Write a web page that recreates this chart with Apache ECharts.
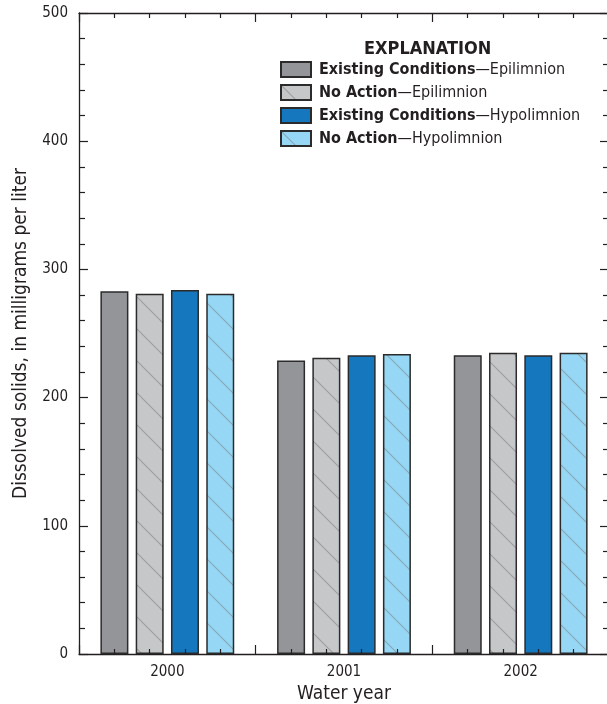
<!DOCTYPE html>
<html>
<head>
<meta charset="utf-8">
<script src="https://cdn.jsdelivr.net/npm/echarts@6/dist/echarts.min.js"></script>
<style>
html,body{margin:0;padding:0;background:#fff;overflow:hidden;}
#chart{width:610px;height:704px;}
</style>
</head>
<body>
<div id="chart"></div>
<script>
const years = ['2000', '2001', '2002'];
const seriesNames = [
  'Existing Conditions—Epilimnion',
  'No Action—Epilimnion',
  'Existing Conditions—Hypolimnion',
  'No Action—Hypolimnion'
];
const existingEpi = [283, 229, 233];
const noActionEpi = [281, 231, 235];
const existingHypo = [284, 233, 233];
const noActionHypo = [281, 234, 235];
const yTicks = [0, 100, 200, 300, 400, 500];

const FONT = '"DejaVu Sans Condensed", "Liberation Sans Narrow", sans-serif';
const INK = '#231f20';

function hatch(bg, line) {
  const c = document.createElement('canvas');
  const s = 32;
  c.width = s; c.height = s;
  const g = c.getContext('2d');
  g.fillStyle = bg; g.fillRect(0, 0, s, s);
  g.strokeStyle = line; g.lineWidth = 1.1;
  for (let k = -1; k <= 1; k++) {
    g.beginPath();
    g.moveTo(-4, -4 + k * s);
    g.lineTo(s + 4, s + 4 + k * s);
    g.stroke();
  }
  return { image: c, repeat: 'repeat' };
}

const fills = [
  '#939598',
  hatch('#c6c7c9', '#9c9c9e'),
  '#1577bd',
  hatch('#95d7f4', '#8aa6b4')
];
const dataSets = [existingEpi, noActionEpi, existingHypo, noActionHypo];

const chart = echarts.init(document.getElementById('chart'), null, { renderer: 'canvas' });

function tickAxis(gridIndex, pos, min, max, interval, majorLen, minorLen, showLine) {
  return {
    gridIndex: gridIndex,
    type: 'value', min: min, max: max, interval: interval, position: pos,
    axisLine: { show: !!showLine, onZero: false, lineStyle: { color: INK, width: 1.3 } },
    axisLabel: { show: false }, splitLine: { show: false },
    axisTick: { show: true, inside: true, length: majorLen, lineStyle: { color: INK, width: 1.2 } },
    minorTick: { show: true, splitNumber: 5, length: minorLen, lineStyle: { color: INK, width: 1.2 } },
    z: 10
  };
}

function makeGrid() {
  return { left: 79, right: 1, top: 13, bottom: 50, containLabel: false, outerBoundsMode: 'none' };
}

chart.setOption({
  animation: false,
  backgroundColor: '#fff',
  textStyle: { fontFamily: FONT },
  title: {
    text: 'EXPLANATION',
    left: 364, top: 40, padding: 0,
    textStyle: { fontFamily: FONT, fontSize: 18, fontWeight: 'bold', color: INK }
  },
  legend: {
    orient: 'vertical',
    left: 280, top: 61, padding: 0,
    icon: 'rect',
    itemWidth: 30, itemHeight: 15, itemGap: 6,
    selectedMode: false,
    data: seriesNames,
    formatter: function (name) {
      const p = name.split('—');
      return '{b|' + p[0] + '}{r|—' + p[1] + '}';
    },
    textStyle: {
      padding: [0, 0, 0, 3],
      rich: {
        b: { fontFamily: FONT, fontSize: 16, fontWeight: 'bold', color: INK, lineHeight: 16 },
        r: { fontFamily: FONT, fontSize: 16, color: INK, lineHeight: 16 }
      }
    }
  },
  grid: [makeGrid(), makeGrid(), makeGrid()],
  xAxis: [
    {
      gridIndex: 0,
      type: 'category', data: years, position: 'bottom',
      axisLine: { show: true, onZero: false, lineStyle: { color: INK, width: 1.3 } },
      axisTick: { show: false },
      axisLabel: { fontFamily: FONT, fontSize: 15, color: INK, margin: 11 },
      name: 'Water year', nameLocation: 'middle', nameGap: 31,
      nameTextStyle: { fontFamily: FONT, fontSize: 19, color: INK }
    },
    tickAxis(1, 'top', 0, 15, 5, 9, 5, true),
    tickAxis(2, 'bottom', 0, 15, 5, 9, 5, false)
  ],
  yAxis: [
    {
      gridIndex: 0,
      type: 'value', min: 0, max: 500, interval: 100, position: 'left',
      axisLine: { show: true, onZero: false, lineStyle: { color: INK, width: 1.3 } },
      axisTick: { show: false },
      splitLine: { show: false },
      axisLabel: {
        fontFamily: FONT, fontSize: 15, color: INK, margin: 11,
        formatter: function (v) { return yTicks.indexOf(v) >= 0 ? String(v) : ''; }
      },
      name: 'Dissolved solids, in milligrams per liter',
      nameLocation: 'middle', nameGap: 48,
      nameTextStyle: { fontFamily: FONT, fontSize: 19, color: INK }
    },
    tickAxis(1, 'right', 0, 500, 100, 9, 6, true),
    tickAxis(2, 'left', 0, 500, 100, 9, 6, false)
  ],
  series: seriesNames.map(function (n, i) {
    return {
      name: n, type: 'bar',
      xAxisIndex: 0, yAxisIndex: 0,
      data: dataSets[i],
      barWidth: 28, barGap: '26%',
      itemStyle: { color: fills[i], borderColor: '#2b2b2b', borderWidth: 1.5 },
      emphasis: { disabled: true },
      z: 2
    };
  })
});
</script>
</body>
</html>
